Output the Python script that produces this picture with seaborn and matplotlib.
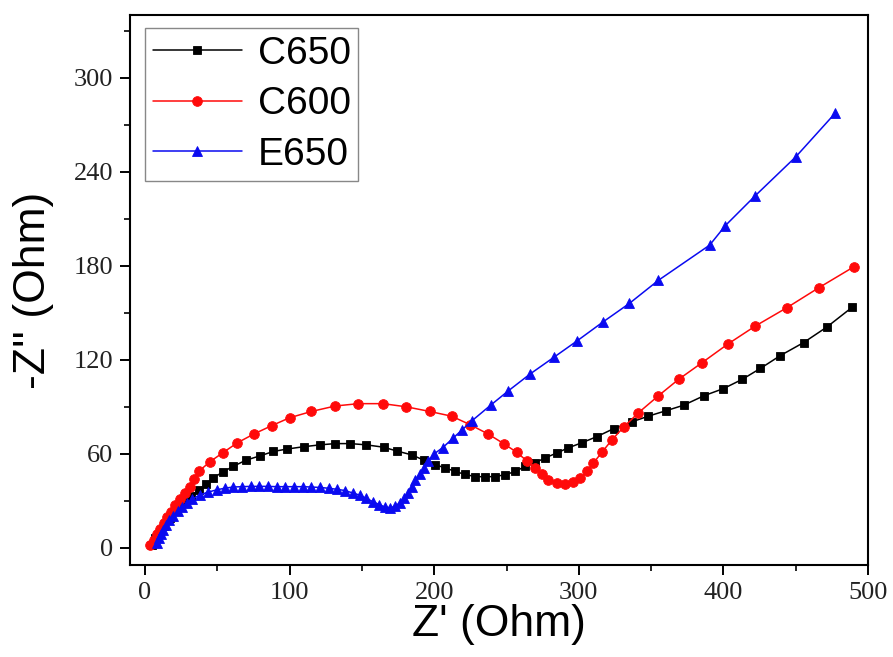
import matplotlib
matplotlib.use("Agg")
import matplotlib.pyplot as plt
import seaborn as sns
import pandas as pd
from matplotlib.ticker import MultipleLocator

# ---- data ----
c650_x = [4.6, 7, 10, 13, 17, 22, 27, 32, 37, 42, 47, 54, 61, 70, 79.6, 88.8, 98, 109.6,
          121, 131.5, 142, 153, 165, 174, 184.5, 192.6, 200.7, 207.6, 214.5, 221.5, 228,
          235, 242, 249, 256, 263, 270, 276.8, 285, 292.7, 302, 312.6, 324, 336.8, 348,
          360, 372.5, 386.4, 400, 413, 425.6, 439.4, 455.5, 471.7, 489]
c650_y = [2, 6, 10, 14, 19, 24, 29, 33, 37, 40.5, 44.5, 48.5, 52, 56, 58.7, 61.5, 63, 64.5,
          65.7, 66.5, 66.5, 65.7, 64.2, 61.8, 59.3, 56, 53, 51, 48.7, 46.8, 45.5,
          45.3, 45.5, 46.6, 48.7, 52, 54.4, 57.4, 60.6, 63.8, 67, 71, 76, 80.4, 84,
          87.4, 91, 97, 101.6, 107.5, 114.5, 122.7, 131, 141, 153.5]

c600_x = [3.5, 6, 8.5, 10.5, 13, 15.5, 18, 21, 24, 27.5, 31, 34, 37, 45, 54, 63.8, 75.4,
          87.7, 100, 115, 131.5, 147.6, 164.5, 180.6, 197, 212, 225, 237.5, 248, 257, 264,
          270, 274.5, 279, 285, 290.7, 296, 301, 305.7, 310, 316, 323, 331, 341, 355, 369,
          385, 403, 422, 444, 466, 490.5]
c600_y = [1.5, 5, 9, 12, 16, 19.5, 23, 27, 31, 35, 39, 44, 48.7, 55, 60.8, 67, 72.7,
          78, 83, 87, 90.5, 92, 92, 90, 87, 84, 78.5, 72.5, 66.5, 61, 55.5,
          51, 47, 43.5, 41.5, 40.5, 41.7, 44.7, 48.7, 54, 61, 69, 77, 86, 97, 107.5,
          118, 130, 141.5, 153.3, 166, 179.5]

e650_x = [8, 9.5, 11, 12.7, 14.5, 16.5, 19.6, 22.5, 25.5, 28.8, 32.5, 38, 43.5, 49.6, 55,
          61, 67, 73, 79, 85, 91, 97, 103, 109, 115, 121, 127, 133, 138.5, 143.5, 148.8,
          153, 157.5, 162, 166, 169.5, 173, 176, 179, 182, 184.6, 187, 190, 193, 196, 200,
          206, 213, 219, 226, 239, 251, 266.4, 282.6, 298.7, 316.5, 335, 355, 390.5,
          401.4, 422, 450, 477.5]
e650_y = [3, 6, 9, 11.5, 14.5, 17.5, 20.5, 23.5, 26, 28.6, 31, 33.8, 35.5, 37, 38,
          38.8, 39, 39.2, 39.2, 39.2, 39, 39, 39, 39, 38.8, 38.5, 38, 37.3, 36.5, 35, 33.5,
          31.5, 29.5, 27.5, 26, 25.5, 26.5, 28.6, 31.5, 35, 39, 43, 47, 51, 55.5, 60,
          64, 70, 75, 81, 91, 100, 111, 121.5, 132, 144, 156, 170.7, 193.2,
          205.7, 224.7, 249.5, 277.6]

series = [
    ("C650", c650_x, c650_y, "black", "s", 6.0),
    ("C600", c600_x, c600_y, "#ff0a0a", "o", 7.0),
    ("E650", e650_x, e650_y, "#0a0af0", "^", 7.0),
]

sns.set_theme(style="ticks")
plt.rcParams["font.family"] = ["Liberation Serif", "DejaVu Serif"]
plt.rcParams["text.color"] = "black"
plt.rcParams["axes.labelcolor"] = "black"

fig = plt.figure(figsize=(8.93, 6.57), dpi=100)
ax = fig.add_axes([0.1456, 0.140, 0.8264, 0.837])

for name, xs, ys, col, mk, ms in series:
    df = pd.DataFrame({"x": xs, "y": ys})
    sns.lineplot(data=df, x="x", y="y", ax=ax, color=col, marker=mk, markersize=ms,
                 markeredgecolor=col, markeredgewidth=0.6, linewidth=1.1,
                 estimator=None, sort=False, label=name)

ax.set_xlim(-10.4, 500)
ax.set_ylim(-11, 340)
ax.xaxis.set_major_locator(MultipleLocator(100))
ax.xaxis.set_minor_locator(MultipleLocator(50))
ax.yaxis.set_major_locator(MultipleLocator(60))
ax.yaxis.set_minor_locator(MultipleLocator(30))

ax.tick_params(axis="both", which="major", direction="out", length=7, width=1.4,
               labelsize=19, labelcolor="#222222", color="black", pad=5)
ax.tick_params(axis="both", which="minor", direction="out", length=4, width=1.2,
               color="black")
ax.tick_params(top=False, right=False, which="both")

for sp in ax.spines.values():
    sp.set_linewidth(1.5)
    sp.set_color("black")

sans = ["Liberation Sans", "DejaVu Sans"]
ax.set_xlabel("Z' (Ohm)", fontsize=32, family=sans, labelpad=0, color="black")
ax.set_ylabel("-Z'' (Ohm)", fontsize=32, family=sans, labelpad=14, color="black")

leg = ax.legend(loc="upper left", bbox_to_anchor=(0.02, 0.977), borderaxespad=0,
                prop={"family": sans, "size": 28}, frameon=True, fancybox=False,
                edgecolor="#888888", framealpha=1, handlelength=2.3,
                handletextpad=0.4, labelspacing=0.38, borderpad=0.2)
leg.get_frame().set_linewidth(1.0)
for t in leg.get_texts():
    t.set_color("black")

fig.savefig("out.png", dpi=100)
